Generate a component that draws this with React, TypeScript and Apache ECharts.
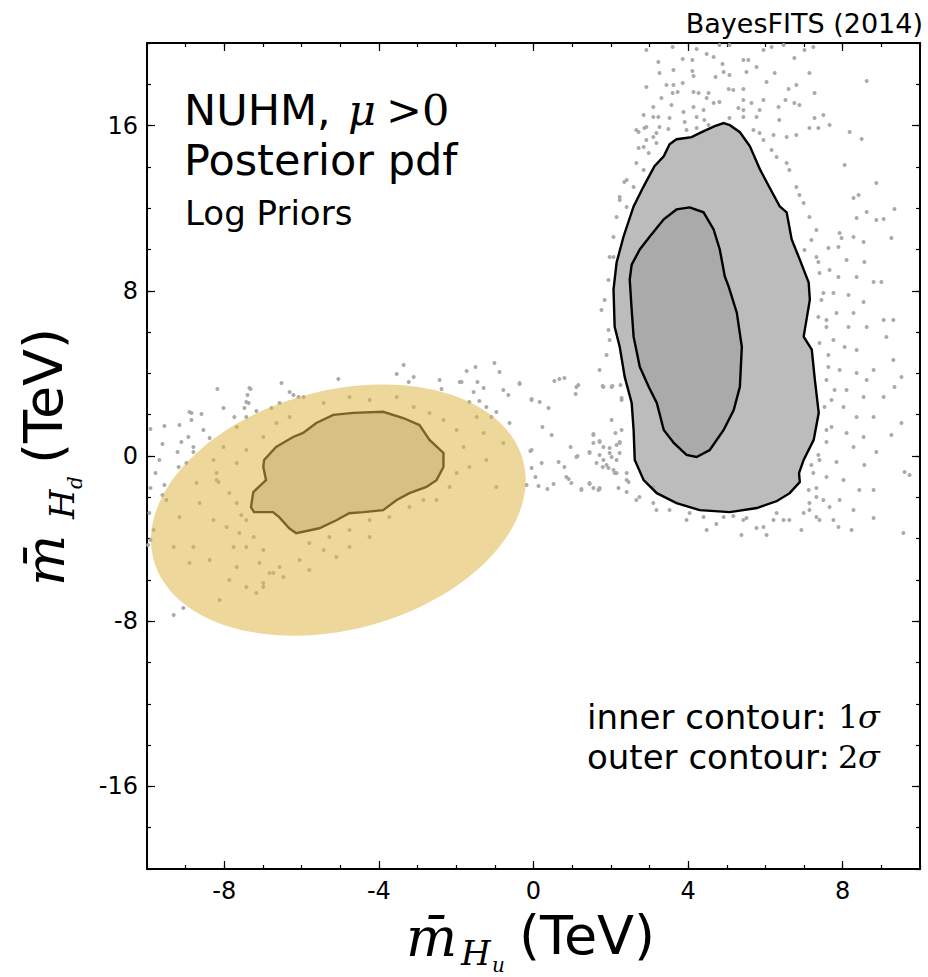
import React, { useEffect, useRef } from "react";
import * as echarts from "echarts";

// ---- axes ----
const X_MIN = -10;
const X_MAX = 10;
const Y_MIN = -20;
const Y_MAX = 20;
const X_TICKS = [-8, -4, 0, 4, 8];
const Y_TICKS = [-16, -8, 0, 8, 16];

// ---- right cluster (mu > 0 branch) contours, TeV ----
const RIGHT_OUTER_2SIGMA: number[][] = [
  [4.92, 16.12], [5.08, 16.02], [5.34, 15.68], [5.6, 15.0], [5.86, 13.88], [6.09, 13.06],
  [6.37, 12.09], [6.55, 11.8], [6.68, 10.49], [6.89, 9.51], [7.12, 8.4], [7.15, 7.57],
  [6.99, 5.78], [7.2, 5.15], [7.28, 3.69], [7.38, 2.09], [7.25, 0.78], [6.99, -0.19],
  [6.87, -0.83], [6.89, -1.26], [6.63, -1.8], [6.3, -2.18], [5.78, -2.52], [5.08, -2.72],
  [4.3, -2.62], [3.7, -2.28], [3.19, -1.8], [2.85, -1.17], [2.62, -0.19], [2.59, 1.26],
  [2.54, 2.57], [2.36, 3.83], [2.23, 5.29], [2.1, 6.26], [2.07, 8.06], [2.15, 9.37],
  [2.33, 10.63], [2.59, 12.09], [2.85, 13.06], [3.13, 14.03], [3.37, 14.51], [3.52, 15.1],
  [3.7, 15.34], [3.89, 15.39], [4.09, 15.44], [4.35, 15.68], [4.69, 15.97],
];
const RIGHT_INNER_1SIGMA: number[][] = [
  [4.04, 12.04], [4.4, 11.8], [4.66, 10.97], [4.82, 10.0], [4.95, 8.69], [5.05, 8.2],
  [5.26, 6.94], [5.39, 5.29], [5.34, 3.35], [5.18, 2.23], [4.92, 1.26], [4.56, 0.29],
  [4.22, -0.05], [3.96, 0.05], [3.63, 0.63], [3.37, 1.26], [3.19, 2.57], [2.98, 3.35],
  [2.75, 4.32], [2.59, 5.78], [2.54, 7.09], [2.49, 8.54], [2.54, 9.27], [2.75, 10.0],
  [3.01, 10.63], [3.37, 11.46], [3.7, 11.94],
];
// ---- left cluster 1 sigma contour ----
const LEFT_INNER_1SIGMA: number[][] = [
  [-6.99, -0.53], [-6.97, -0.19], [-6.66, 0.44], [-6.22, 0.92], [-5.96, 1.12], [-5.62, 1.6],
  [-5.18, 1.99], [-4.66, 2.09], [-3.89, 2.14], [-3.37, 1.84], [-2.95, 1.5], [-2.69, 0.78],
  [-2.33, 0.15], [-2.33, -0.53], [-2.51, -1.17], [-2.77, -1.5], [-3.21, -1.8], [-3.55, -2.14],
  [-3.89, -2.62], [-4.4, -2.72], [-4.77, -2.77], [-5.1, -3.11], [-5.54, -3.5], [-6.14, -3.74],
  [-6.32, -3.5], [-6.58, -2.96], [-6.74, -2.72], [-7.23, -2.72], [-7.31, -2.48], [-7.25, -1.75],
  [-6.92, -1.17],
];
// ---- highlighted ellipse: centre and two conjugate semi-axis vectors, TeV ----
const ELLIPSE_CENTER = [-5.05, -2.62];
const ELLIPSE_SEMI_A = [4.78, 2.4];
const ELLIPSE_SEMI_B = [-0.8, 5.59];

const SAMPLE_POINTS: number[][] = [
  // top of right cluster
  [2.92, 19.66], [3.6, 19.81], [4.22, 19.71], [4.81, 19.9], [5.07, 19.9], [5.95, 19.66], [6.16, 19.81],
  [6.47, 19.9], [7.01, 19.66], [7.24, 19.81], [3.23, 19.08], [3.86, 19.23], [4.11, 19.18], [4.48, 19.47],
  [4.66, 19.32], [4.89, 18.98], [5.43, 19.18], [5.56, 19.18], [6.75, 19.27], [3.26, 18.55], [3.62, 18.69],
  [4.11, 18.64], [4.92, 18.6], [5.51, 18.6], [5.77, 18.84], [6.24, 18.55], [7.14, 18.55], [2.92, 17.87],
  [3.44, 17.97], [3.62, 17.97], [3.86, 18.06], [4.14, 18.4], [4.71, 18.35], [5.07, 18.45], [6.03, 18.11],
  [6.8, 17.97], [8.62, 18.16], [3.6, 17.58], [3.73, 17.63], [4.14, 17.63], [4.27, 17.58], [4.53, 17.58],
  [5.05, 17.77], [5.17, 17.72], [5.43, 17.77], [6.6, 17.77], [7.27, 17.58], [3.31, 17.34], [4.48, 17.34],
  [4.66, 17.09], [4.81, 17.14], [5.43, 17.24], [5.64, 17.09], [5.95, 17.24], [6.52, 17.24], [6.75, 17.09],
  [3.1, 16.9], [3.57, 17.0], [3.88, 16.66], [4.14, 16.9], [4.4, 16.76], [5.3, 16.85], [5.43, 16.76],
  [5.85, 16.76], [6.34, 16.9], [6.88, 17.0], [2.85, 16.51], [3.23, 16.42], [3.52, 16.37], [3.91, 16.17],
  [4.22, 16.42], [4.42, 16.27], [5.07, 16.37], [5.43, 16.42], [5.77, 16.42], [6.36, 16.27], [7.27, 16.37],
  [7.5, 16.51], [2.72, 15.69], [2.92, 15.93], [3.18, 15.64], [3.49, 15.84], [5.69, 15.79], [5.85, 15.64],
  [6.21, 15.54], [6.55, 15.45], [6.8, 15.54], [7.14, 15.88], [7.37, 15.88], [7.66, 16.03], [8.18, 15.69],
  [8.49, 15.35], [4.22, 15.88], [3.96, 15.79], [4.53, 16.03],
  // just outside the 2 sigma contour
  [3.1, 15.45], [2.85, 14.96], [2.98, 14.67], [3.18, 15.16], [2.66, 14.19], [2.85, 13.85], [2.41, 13.37],
  [2.59, 13.03], [2.23, 12.4], [2.41, 12.06], [2.15, 11.57], [2.07, 10.61], [1.97, 9.64],
  [5.95, 15.3], [6.29, 14.48], [6.62, 13.85], [6.8, 13.03], [6.99, 12.25], [7.14, 11.57], [7.32, 10.94],
  [6.16, 14.82], [6.55, 14.19], [6.88, 12.64], [7.19, 10.46], [7.01, 9.98], [7.37, 9.39], [7.45, 7.55],
  [7.58, 6.59], [7.63, 4.89], [7.71, 2.71], [7.58, 1.26], [7.37, 0.05], [7.19, -0.44], [7.12, -1.65],
  [1.94, 8.52], [1.76, 7.07], [1.97, 5.62], [1.71, 4.16], [2.02, 1.74], [2.28, 1.26], [2.15, 0.53],
  [2.41, -1.74], [2.66, -2.13], [3.18, -2.62], [3.96, -3.1], [4.73, -3.29], [4.48, -3.58],
  // right flank
  [8.05, 14.09], [8.87, 13.22], [9.34, 11.96], [8.41, 12.64], [8.28, 12.49], [8.62, 11.82], [8.36, 11.53],
  [8.87, 11.43], [9.06, 11.48], [9.26, 10.56], [7.92, 10.8], [7.97, 10.56], [8.28, 10.61], [8.54, 10.36],
  [7.63, 10.07], [7.89, 10.12], [8.1, 9.49], [8.56, 9.39], [7.32, 9.64], [7.66, 9.01], [7.89, 8.67],
  [8.36, 8.67], [8.8, 8.43], [9.0, 8.43], [7.4, 8.86], [7.5, 7.89], [7.76, 7.89], [8.15, 7.8], [8.54, 7.46],
  [7.84, 6.92], [8.28, 6.92], [9.06, 6.59], [9.31, 6.59], [7.37, 6.73], [7.58, 6.25], [8.15, 6.25],
  [8.62, 6.25], [9.13, 5.76], [7.76, 5.62], [8.05, 5.28], [8.36, 5.13], [7.4, 5.47], [8.8, 4.16],
  [9.31, 4.65], [7.63, 4.31], [7.92, 4.16], [8.36, 4.02], [7.58, 3.68], [8.62, 3.68], [9.52, 3.83],
  [7.79, 3.2], [8.1, 3.2], [8.54, 2.86], [9.06, 2.86], [9.34, 3.34], [7.53, 2.37], [8.02, 2.37],
  [8.36, 1.89], [8.8, 1.89], [9.52, 1.6], [7.71, 1.4], [8.1, 1.11], [8.54, 0.92], [9.26, 1.02],
  [7.58, 0.68], [8.28, 0.44], [8.87, 0.19], [7.4, -0.19], [7.84, -0.29], [8.56, -0.44], [9.6, -0.77],
  [9.73, -0.92], [7.24, -0.82], [7.58, -1.02], [8.02, -1.16], [8.43, -1.65], [8.8, -1.65], [7.32, -1.55],
  [7.5, -2.13], [7.92, -2.13], [8.28, -2.62], [8.8, -3.0], [7.14, -2.28], [6.99, -2.76], [7.32, -2.95],
  [7.89, -3.44], [8.23, -3.58], [6.93, -3.58], [9.57, -3.73], [6.62, -3.1],
  // below right cluster
  [5.77, -3.49], [5.95, -3.44], [6.47, -3.1], [7.14, -2.62], [7.32, -1.99], [7.76, -3.1], [5.43, -3.1],
  [4.92, -2.95], [4.4, -2.95], [4.04, -2.76], [3.52, -2.62], [3.1, -2.28], [2.74, -1.99], [6.21, -3.1],
  [5.51, -3.0], [5.17, -2.91], [7.4, -3.1], [7.66, -2.47], [3.1, -1.5], [2.41, -1.16], [2.15, -0.82],
  [1.71, -1.55], [5.38, -3.83], [6.03, -3.83], [6.29, -2.76],
  // left flank of right cluster
  [1.11, 3.34], [1.81, 3.34], [2.02, 3.34], [2.28, 2.81], [1.55, 1.02], [1.71, 0.68], [1.81, 0.44],
  [1.97, 0.15], [2.15, -0.19], [2.23, 0.63], [1.45, 0.15], [1.63, -0.34], [1.89, -0.44], [2.1, -0.82],
  [2.41, -0.82], [1.45, -1.31], [1.68, -1.65], [1.24, -1.65], [2.2, -1.55], [2.46, -1.26], [1.11, -0.05],
  [2.28, 2.71], [2.23, 12.54], [2.35, 13.27], [2.07, 9.64], [2.72, 14.92], [2.87, 15.88], [2.66, 15.79],
  [2.92, 15.3], [3.1, 16.42], [3.26, 15.93], [1.84, 7.55], [1.94, 6.1], [1.89, 4.89],
  // bridge between the clusters
  [-2.43, 3.68], [-1.86, 3.58], [-1.73, 4.12], [-1.5, 4.31], [-1.01, 4.5], [-0.88, 4.07], [-1.45, 3.58],
  [-1.55, 3.1], [-1.29, 3.29], [-0.78, 3.2], [-0.65, 2.95], [-0.36, 3.49], [0.54, 3.63], [0.67, 3.73],
  [0.8, 3.78], [1.16, 3.44], [1.09, 3.0], [1.79, 3.39], [2.04, 3.39], [2.25, 3.44], [-1.66, 2.61],
  [-1.4, 2.66], [-1.22, 2.37], [-0.96, 2.13], [-1.09, 1.89], [-0.05, 2.76], [0.16, 2.61], [0.39, 2.32],
  [-0.62, 1.6], [0.23, 1.4], [0.47, 1.02], [0.96, 0.44], [1.14, 0.0], [-0.08, 0.24], [0.21, -0.34],
  [0.65, -0.29], [0.8, -0.53], [-0.05, -0.58], [0.05, -1.02], [0.13, -1.45], [-0.18, -1.4], [0.52, -1.36],
  [0.85, -1.02], [0.91, -1.11], [0.98, -1.31], [0.36, -1.6], [1.24, -1.6], [1.45, -1.36], [1.55, -1.55],
  [1.71, -1.6], [1.45, 0.19], [1.55, 0.63], [1.71, 0.73], [1.97, 0.39], [2.02, -0.05], [1.81, -0.19],
  [1.79, -0.53], [1.94, -0.58], [2.07, -0.68], [2.23, 0.15], [2.23, 0.68], [2.12, 1.11], [1.55, 1.07],
  [1.71, 0.05], [-0.05, 0.29], [-0.36, 3.54], [-0.05, 2.71],
  // around the left cluster
  [-6.52, 3.54], [-6.31, 3.1], [-6.21, 2.95], [-6.08, 2.86], [-8.18, 3.24], [-7.32, 3.24], [-7.4, 2.95],
  [-7.43, 2.61], [-7.37, 2.57], [-7.17, 2.18], [-7.48, 2.32], [-8.02, 2.32], [-7.74, 1.89], [-8.85, 2.08],
  [-8.59, 2.03], [-8.85, 1.74], [-9.16, 1.5], [-9.55, 1.45], [-9.91, 1.31], [-8.54, 1.26], [-8.93, 0.92],
  [-8.38, 0.87], [-9.11, 0.68], [-8.8, 0.44], [-9.6, 0.58], [-9.21, 0.19], [-5.05, 3.73], [-3.54, 3.97],
  [-3.36, 4.41], [-3.23, 3.58], [-3.1, 3.83], [-1.91, 3.58], [-2.38, 3.24], [-6.78, 2.32], [-6.57, 2.57],
  [-9.68, -0.19], [-9.91, -1.55], [-9.94, -2.76], [-9.97, -4.31], [-9.31, -7.7], [-9.06, -7.36],
  [-8.9, 2.13], [-7.35, 3.29], [-9.78, -0.82], [-9.55, -1.4], [-9.6, -1.89], [-9.83, -3.58], [-9.91, -4.07],
  [-9.18, -0.53], [-8.98, -0.34], [-8.8, 0.19],
  // inside the left ellipse
  [-8.72, -1.31], [-8.64, -2.28], [-8.2, -0.82], [-8.15, -1.26], [-7.87, -1.79], [-8.28, -3.1],
  [-7.94, -3.44], [-7.61, -3.73], [-7.43, -3.1], [-7.24, -3.92], [-7.76, -4.41], [-7.43, -4.41],
  [-6.99, -4.55], [-8.8, -4.41], [-8.9, -5.18], [-8.38, -5.04], [-7.68, -5.38], [-7.09, -5.18],
  [-6.73, -5.67], [-7.87, -6.0], [-7.43, -6.34], [-8.12, -6.97], [-6.99, -6.15], [-7.17, -6.63],
  [-9.16, -2.95], [-9.31, -4.41], [-9.5, -2.13], [-7.68, -2.28], [-7.56, -2.86], [-5.95, 2.86],
  [-5.43, 2.57], [-4.76, 2.86], [-4.24, 2.71], [-3.54, 2.86], [-3.1, 2.37], [-2.69, 2.08], [-2.33, 1.74],
  [-1.99, 1.26], [-1.81, 0.44], [-1.66, -0.53], [-1.99, -0.82], [-2.17, -1.5], [-2.51, -2.13],
  [-2.85, -2.13], [-3.21, -2.47], [-3.73, -2.95], [-4.24, -3.1], [-4.76, -3.58], [-5.28, -3.92],
  [-5.8, -4.21], [-5.43, -4.55], [-5.1, -4.89], [-6.05, -5.04], [-6.57, -5.38], [-6.47, -5.86],
  [-6.83, -5.67], [-6.99, -6.34], [-5.8, -5.52], [-4.76, -4.41], [-4.24, -3.92], [-1.22, -0.19],
  [-0.96, -1.5], [-0.78, 0.63], [-1.29, 1.11], [-1.47, 1.89], [-6.99, 0.92], [-7.43, 0.29], [-7.68, -0.34],
  [-8.02, 0.44], [-8.28, -0.19], [-7.68, 1.4], [-6.65, 1.6], [-6.31, 1.89], [-7.43, 1.89], [-8.2, -1.16],
];

const SANS = '"DejaVu Sans", sans-serif';
const SERIF = '"DejaVu Serif", serif';

function polygonSeries(points: number[][], style: any, z: number) {
  return {
    type: "custom",
    coordinateSystem: "cartesian2d",
    xAxisIndex: 0,
    yAxisIndex: 0,
    silent: true,
    z,
    data: [[points[0][0], points[0][1]]],
    renderItem: (_params: any, api: any) => ({
      type: "polygon",
      shape: { points: points.map((p) => api.coord(p)) },
      style,
    }),
  };
}

function ellipseSeries(z: number) {
  return {
    type: "custom",
    coordinateSystem: "cartesian2d",
    xAxisIndex: 0,
    yAxisIndex: 0,
    silent: true,
    z,
    data: [[ELLIPSE_CENTER[0], ELLIPSE_CENTER[1]]],
    renderItem: (_params: any, api: any) => {
      const pts: number[][] = [];
      const n = 180;
      for (let i = 0; i < n; i++) {
        const t = (i / n) * Math.PI * 2;
        const c = Math.cos(t);
        const s = Math.sin(t);
        pts.push(
          api.coord([
            ELLIPSE_CENTER[0] + ELLIPSE_SEMI_A[0] * c + ELLIPSE_SEMI_B[0] * s,
            ELLIPSE_CENTER[1] + ELLIPSE_SEMI_A[1] * c + ELLIPSE_SEMI_B[1] * s,
          ])
        );
      }
      return {
        type: "polygon",
        shape: { points: pts },
        style: { fill: "rgba(222,182,72,0.55)", stroke: "none" },
      };
    },
  };
}

function mkAxis(kind: "x" | "y", position: string, major: boolean, showLine: boolean, labels: boolean) {
  const ticks = kind === "x" ? X_TICKS : Y_TICKS;
  const base: any = {
    type: "value",
    min: kind === "x" ? X_MIN : Y_MIN,
    max: kind === "x" ? X_MAX : Y_MAX,
    position,
    gridIndex: 0,
    splitLine: { show: false },
    axisLine: { show: showLine, onZero: false, lineStyle: { color: "#000", width: 2 } },
    axisTick: {
      show: true,
      inside: true,
      length: major ? 8 : 4,
      lineStyle: { color: "#000", width: 1.2 },
    },
    axisLabel: { show: false },
  };
  if (major) {
    base.axisTick.customValues = ticks;
    base.axisLabel = {
      show: labels,
      customValues: ticks,
      margin: kind === "x" ? 11 : 9,
      color: "#000",
      fontFamily: SANS,
      fontSize: 24,
      lineHeight: 22,
    };
  } else {
    base.interval = kind === "x" ? 1 : 2;
  }
  return base;
}

function txt(text: string, x: number, y: number, fontSize: number, family: string, opts: any = {}) {
  return {
    type: "text",
    x,
    y,
    rotation: opts.rotation || 0,
    silent: true,
    style: {
      text,
      fill: "#000",
      fontSize,
      fontFamily: family,
      fontStyle: opts.italic ? "italic" : "normal",
      lineHeight: Math.round(fontSize * 0.8),
      align: opts.align || "left",
      textAlign: opts.align || "left",
      verticalAlign: "middle",
      textVerticalAlign: "middle",
    },
  };
}

export default function App() {
  const ref = useRef<HTMLDivElement>(null);
  useEffect(() => {
    if (!ref.current) return;
    const chart = echarts.init(ref.current, null, { renderer: "svg" });
    const R = Math.PI / 2;
    const option: any = {
      animation: false,
      backgroundColor: "#fff",
      grid: { left: 147, top: 43, width: 773, height: 826, containLabel: false },
      xAxis: [
        mkAxis("x", "bottom", true, true, true),
        mkAxis("x", "bottom", false, false, false),
        mkAxis("x", "top", true, true, false),
        mkAxis("x", "top", false, false, false),
      ],
      yAxis: [
        mkAxis("y", "left", true, true, true),
        mkAxis("y", "left", false, false, false),
        mkAxis("y", "right", true, true, false),
        mkAxis("y", "right", false, false, false),
      ],
      series: [
        polygonSeries(RIGHT_OUTER_2SIGMA, { fill: "#bcbcbc", stroke: "none" }, 1),
        polygonSeries(RIGHT_INNER_1SIGMA, { fill: "#aaaaaa", stroke: "none" }, 1),
        polygonSeries(LEFT_INNER_1SIGMA, { fill: "rgba(170,170,170,0.6)", stroke: "none" }, 1),
        {
          type: "scatter",
          xAxisIndex: 0,
          yAxisIndex: 0,
          data: SAMPLE_POINTS,
          symbol: "circle",
          symbolSize: 4,
          silent: true,
          itemStyle: { color: "#aaaaaa", opacity: 1 },
          z: 2,
        },
        polygonSeries(RIGHT_OUTER_2SIGMA, { fill: "none", stroke: "#000", lineWidth: 2.4 }, 3),
        polygonSeries(RIGHT_INNER_1SIGMA, { fill: "none", stroke: "#000", lineWidth: 2.4 }, 3),
        polygonSeries(LEFT_INNER_1SIGMA, { fill: "none", stroke: "#000", lineWidth: 2.4 }, 3),
        ellipseSeries(4),
      ],
      graphic: {
        elements: [
          txt("BayesFITS (2014)", 923, 23, 27, SANS, { align: "right" }),
          txt("NUHM,", 184, 110, 43, SANS),
          txt("μ", 348, 110, 43, SERIF, { italic: true }),
          txt(">0", 386, 110, 43, SERIF),
          txt("Posterior pdf", 184, 160, 43, SANS),
          txt("Log Priors", 185, 213, 34, SANS),
          txt("inner contour:", 587, 717, 34, SANS),
          txt("1", 838, 717, 32, SERIF),
          txt("σ", 858, 717, 32, SERIF, { italic: true }),
          txt("outer contour:", 587, 757, 34, SANS),
          txt("2", 838, 757, 32, SERIF),
          txt("σ", 858, 757, 32, SERIF, { italic: true }),
          // x axis title
          txt("m̄", 406, 937, 54, SERIF, { italic: true }),
          txt("H", 461, 953, 34, SERIF, { italic: true }),
          txt("u", 492, 965, 20, SERIF, { italic: true }),
          txt("(TeV)", 519, 935, 54, SANS),
          // y axis title (rotated)
          txt("m̄", 45, 586, 54, SERIF, { italic: true, rotation: R }),
          txt("H", 62, 519, 34, SERIF, { italic: true, rotation: R }),
          txt("d", 75, 489, 20, SERIF, { italic: true, rotation: R }),
          txt("(TeV)", 43, 464, 54, SANS, { rotation: R }),
        ],
      },
    };
    chart.setOption(option);
    return () => chart.dispose();
  }, []);
  return (
    <div
      ref={ref}
      style={{ position: "absolute", left: 0, top: 0, width: 928, height: 977, background: "#fff" }}
    />
  );
}
